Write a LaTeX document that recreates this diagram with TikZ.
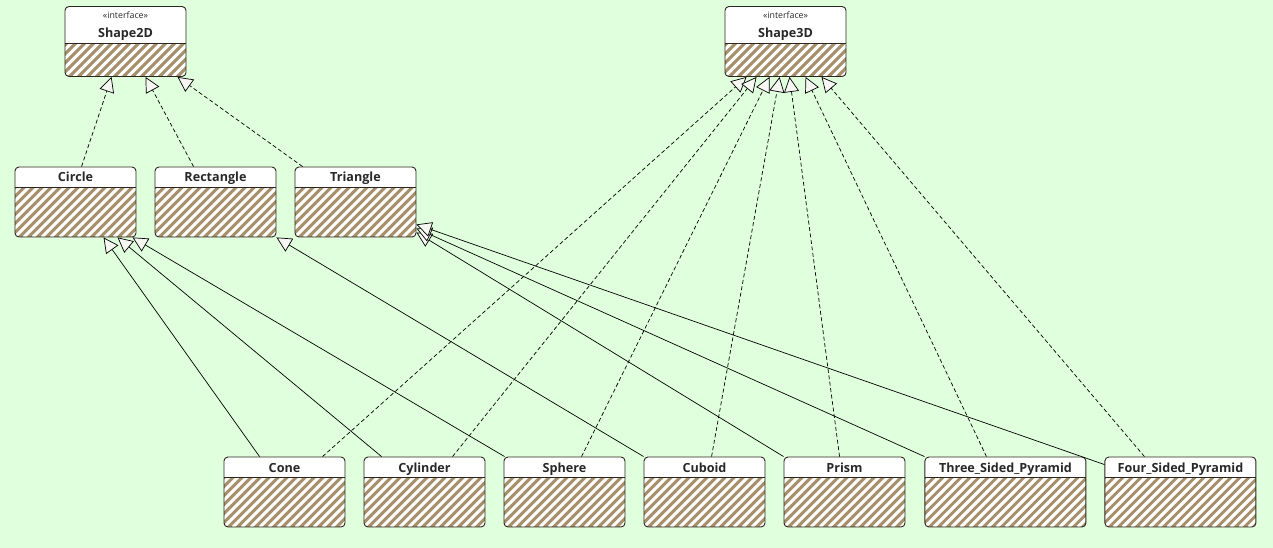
\documentclass[tikz,border=0pt]{standalone}
\usepackage{fontspec}
\newfontfamily\umlfont{Open Sans}
\usetikzlibrary{arrows.meta, positioning, calc}

\definecolor{bgcol}{RGB}{224,255,220}
\definecolor{boxline}{RGB}{45,38,30}
\definecolor{hatchcol}{RGB}{166,143,106}
\definecolor{tipfill}{RGB}{246,246,242}
\definecolor{titlecol}{RGB}{40,40,40}

\tikzset{hdr/.store in=\hdrh, hdr=20pt}

\begin{document}
\begin{tikzpicture}[
    x=1pt, y=-1pt,
    node distance=18.1pt,
    umlbox/.style={draw=boxline, line width=0.9pt, rounded corners=4pt, fill=white, inner sep=0pt,
        text width=121pt, align=center, text height=15pt, text depth=55pt, text=titlecol,
        font=\umlfont\bfseries\fontsize{12.6}{14}\selectfont, hdr=20pt,
        path picture={
            \fill[hatchcol, sharp corners] ([yshift=-\hdrh]path picture bounding box.north west) rectangle (path picture bounding box.south east);
            \begin{scope}[sharp corners]
                \clip ([yshift=-\hdrh]path picture bounding box.north west) rectangle (path picture bounding box.south east);
                \foreach \k in {-90,-81,...,180}
                    \draw[white, line width=3.1pt] ([xshift=\k pt]path picture bounding box.south west) -- ++(90pt,90pt);
            \end{scope}
            \draw[boxline, line width=0.9pt, sharp corners] ([yshift=-\hdrh]path picture bounding box.north west) -- ([yshift=-\hdrh]path picture bounding box.north east);
        }},
    iface/.style={umlbox, hdr=37pt, text height=12pt, text depth=58pt},
    wide/.style={text width=#1},
    gen/.style={-{Triangle[length=15pt, width=15pt, fill=tipfill]}, line width=0.7pt, draw=black},
    real/.style={gen, dash pattern=on 4pt off 2.5pt}
]
\fill[bgcol] (0,0) rectangle (1273,548);
\useasboundingbox (0,0) rectangle (1273,548);

\node[iface] (shape2d) at (125.5,41.5) {{\mdseries\fontsize{8.8}{9}\selectfont «interface»}\\[5pt]Shape2D};
\node[iface] (shape3d) at (785.5,41.5) {{\mdseries\fontsize{8.8}{9}\selectfont «interface»}\\[5pt]Shape3D};

\node[umlbox] (circ) at (75.5,202) {Circle};
\node[umlbox, right=of circ] (rect) {Rectangle};
\node[umlbox, right=of rect] (tri) {Triangle};

\node[umlbox] (cone) at (284.5,492) {Cone};
\node[umlbox, right=of cone] (cylinder) {Cylinder};
\node[umlbox, right=of cylinder] (sphere) {Sphere};
\node[umlbox, right=of sphere] (cuboid) {Cuboid};
\node[umlbox, right=of cuboid] (prism) {Prism};
\node[umlbox, wide=161pt, right=19pt of prism] (threepyr) {Three\_Sided\_Pyramid};
\node[umlbox, wide=151pt, right=of threepyr] (fourpyr) {Four\_Sided\_Pyramid};

\draw[real] ([xshift=67pt]circ.north west) -- ([xshift=47pt]shape2d.south west);
\draw[real] ([xshift=39pt]rect.north west) -- ([xshift=81pt]shape2d.south west);
\draw[real] ([xshift=8pt]tri.north west) -- ([xshift=113pt]shape2d.south west);

\draw[real] ([xshift=99pt]cone.north west) -- ([xshift=22pt]shape3d.south west);
\draw[real] ([xshift=89pt]cylinder.north west) -- ([xshift=32pt]shape3d.south west);
\draw[real] ([xshift=78pt]sphere.north west) -- ([xshift=45pt]shape3d.south west);
\draw[real] ([xshift=68pt]cuboid.north west) -- ([xshift=55pt]shape3d.south west);
\draw[real] ([xshift=56pt]prism.north west) -- ([xshift=65pt]shape3d.south west);
\draw[real] ([xshift=62pt]threepyr.north west) -- ([xshift=81pt]shape3d.south west);
\draw[real] ([xshift=40pt]fourpyr.north west) -- ([xshift=97pt]shape3d.south west);

\draw[gen] ([xshift=36pt]cone.north west) -- ([xshift=89pt]circ.south west);
\draw[gen] ([xshift=18pt]cylinder.north west) -- ([xshift=103pt]circ.south west);
\draw[gen] ([xshift=1pt]sphere.north west) -- ([xshift=118pt]circ.south west);
\draw[gen] (cuboid.north west) -- (rect.south east);
\draw[gen] (prism.north west) -- ([yshift=5pt]tri.south east);
\draw[gen] (threepyr.north west) -- ([yshift=9pt]tri.south east);
\draw[gen] ([yshift=-8pt]fourpyr.north west) -- ([yshift=13pt]tri.south east);
\end{tikzpicture}
\end{document}
